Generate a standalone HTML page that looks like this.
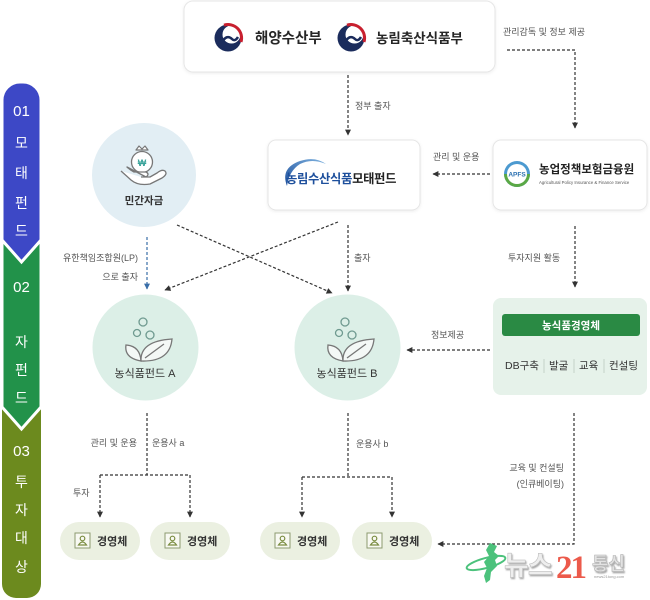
<!DOCTYPE html>
<html><head><meta charset="utf-8">
<style>
html,body{margin:0;padding:0;background:#fff;}
svg{display:block;}
text{font-family:"Liberation Sans","Noto Sans CJK KR",sans-serif;}
</style></head><body>
<svg width="650" height="600" viewBox="0 0 650 600" xmlns="http://www.w3.org/2000/svg">
<defs>
<marker id="ah" viewBox="0 0 10 10" refX="9" refY="5" markerWidth="7" markerHeight="6" orient="auto" markerUnits="userSpaceOnUse"><path d="M0,0 L10,5 L0,10 z" fill="#333"/></marker>
<marker id="ahb" viewBox="0 0 10 10" refX="9" refY="5" markerWidth="7" markerHeight="6" orient="auto" markerUnits="userSpaceOnUse"><path d="M0,0 L10,5 L0,10 z" fill="#3a6ea8"/></marker>
<filter id="sh" x="-10%" y="-10%" width="120%" height="130%"><feDropShadow dx="0" dy="1" stdDeviation="1.5" flood-color="#000" flood-opacity="0.07"/></filter>
<filter id="ts" x="-10%" y="-20%" width="130%" height="150%"><feDropShadow dx="1" dy="1.5" stdDeviation="0.8" flood-color="#000" flood-opacity="0.35"/></filter>
<linearGradient id="sw" x1="0" y1="1" x2="1" y2="0"><stop offset="0" stop-color="#1d4f9c"/><stop offset="1" stop-color="#7fb3e0"/></linearGradient>
</defs>

<!-- Sidebar -->
<path d="M2,400 L41,400 L41,584 A14,14 0 0 1 27,598 L16,598 A14,14 0 0 1 2,584 Z" fill="#6c8a1e"/>
<path d="M2,236 L41,236 L41,407 L21.5,429 L2,407 Z" fill="#22924a" stroke="#fff" stroke-width="3" stroke-linejoin="miter"/>
<path d="M2,100 A18,18 0 0 1 20,82 L23,82 A18,18 0 0 1 41,100 L41,240 L21.5,262 L2,240 Z" fill="#3d48c6" stroke="#fff" stroke-width="3"/>
<g fill="#fff" text-anchor="middle" font-size="14">
<text x="21.5" y="116" font-size="15">01</text>
<text x="21.5" y="148">모</text>
<text x="21.5" y="178">태</text>
<text x="21.5" y="208">펀</text>
<text x="21.5" y="236">드</text>
<text x="21.5" y="292" font-size="15">02</text>
<text x="21.5" y="347">자</text>
<text x="21.5" y="375">펀</text>
<text x="21.5" y="403">드</text>
<text x="21.5" y="456" font-size="15">03</text>
<text x="21.5" y="487">투</text>
<text x="21.5" y="515">자</text>
<text x="21.5" y="543">대</text>
<text x="21.5" y="572">상</text>
</g>

<!-- Top box -->
<rect x="184" y="1" width="311" height="71" rx="9" fill="#fff" stroke="#e6e6e6" filter="url(#sh)"/>
<g transform="translate(228,38)">
<circle r="13.5" fill="#1b2c5c"/>
<circle cx="3.5" cy="-3.5" r="9" fill="#fff"/>
<path d="M-4,-12.8 A13.5,13.5 0 0 1 13,4" fill="none" stroke="#c8202f" stroke-width="3"/>
<path d="M-6,4 Q-1,-4 4,1 Q7,4 10,-1" fill="none" stroke="#1b2c5c" stroke-width="2.5"/>
</g>
<text x="255" y="43" font-size="14.5" font-weight="bold" fill="#262626">해양수산부</text>
<g transform="translate(351,38)">
<circle r="13.5" fill="#1b2c5c"/>
<circle cx="3.5" cy="-3.5" r="9" fill="#fff"/>
<path d="M-4,-12.8 A13.5,13.5 0 0 1 13,4" fill="none" stroke="#c8202f" stroke-width="3"/>
<path d="M-6,4 Q-1,-4 4,1 Q7,4 10,-1" fill="none" stroke="#1b2c5c" stroke-width="2.5"/>
</g>
<text x="376" y="43" font-size="13.5" font-weight="bold" fill="#262626">농림축산식품부</text>

<!-- Central fund box -->
<rect x="268" y="140" width="152" height="70" rx="8" fill="#fff" stroke="#e6e6e6" filter="url(#sh)"/>
<path d="M287,186 Q280,168 300,161 Q315,156 326,164 Q312,158 300,164 Q289,171 287,186 Z" fill="url(#sw)"/>
<text x="286" y="183" font-size="12.3" font-weight="bold" letter-spacing="-0.3"><tspan fill="#1d4f9c">농림수산식품</tspan><tspan fill="#222">모태펀드</tspan></text>

<!-- APFS box -->
<rect x="493" y="140" width="154" height="70" rx="8" fill="#fff" stroke="#e6e6e6" filter="url(#sh)"/>
<circle cx="517" cy="174" r="13" fill="#4c9ad0"/>
<path d="M504,174 A13,13 0 0 0 530,174 Z" fill="#5aa845"/>
<circle cx="517" cy="174" r="10" fill="#fff"/>
<text x="517" y="176.5" font-size="6.5" font-weight="bold" fill="#2a6fb0" text-anchor="middle">APFS</text>
<text x="539" y="173" font-size="11.5" font-weight="bold" fill="#222">농업정책보험금융원</text>
<text x="539" y="184" font-size="4.3" fill="#555">Agricultural Policy Insurance &amp; Finance Service</text>

<!-- 민간자금 circle -->
<circle cx="144" cy="175" r="52" fill="#e2eef4"/>
<path d="M136,150 L139,146 L142,149 L145,146 L148,150 Z" fill="#fff" stroke="#777" stroke-width="1.2" stroke-linejoin="round"/>
<circle cx="142" cy="162" r="10.5" fill="#fff" stroke="#777" stroke-width="1.3"/>
<text x="142" y="166" font-size="9" font-weight="bold" fill="#3aa39a" text-anchor="middle">₩</text>
<path d="M121,171 L131,180 Q138,186 150,184 L162,178 Q168,174 165,171 Q162,169 157,173 L150,177 L141,177 M146,177 Q150,174 146,172 L134,172 Q130,170 127,167 Z" fill="#fff" stroke="#777" stroke-width="1.3" stroke-linejoin="round"/>
<text x="144" y="204" font-size="10.5" font-weight="bold" fill="#333" text-anchor="middle">민간자금</text>

<!-- Fund circles -->
<g>
<circle cx="145.5" cy="347.5" r="53" fill="#dcefe7"/>
<g fill="none" stroke="#6f9a90" stroke-width="1.3">
<circle cx="143" cy="322" r="4"/>
<circle cx="137" cy="333" r="3.5"/>
<circle cx="150" cy="335" r="4"/>
</g>
<path d="M141,361 Q124,358 126,345 Q140,346 141,361 Z" fill="#f4f8f6" stroke="#777" stroke-width="1.3"/>
<path d="M141,361 Q140,341 172,339 Q170,362 141,361 Z M145,358 L164,344" fill="#f4f8f6" stroke="#777" stroke-width="1.3"/>
</g>
<text x="145" y="377" font-size="11" fill="#333" text-anchor="middle">농식품펀드 A</text>
<g transform="translate(202,0)">
<circle cx="145.5" cy="347.5" r="53" fill="#dcefe7"/>
<g fill="none" stroke="#6f9a90" stroke-width="1.3">
<circle cx="143" cy="322" r="4"/>
<circle cx="137" cy="333" r="3.5"/>
<circle cx="150" cy="335" r="4"/>
</g>
<path d="M141,361 Q124,358 126,345 Q140,346 141,361 Z" fill="#f4f8f6" stroke="#777" stroke-width="1.3"/>
<path d="M141,361 Q140,341 172,339 Q170,362 141,361 Z M145,358 L164,344" fill="#f4f8f6" stroke="#777" stroke-width="1.3"/>
</g>
<text x="347" y="377" font-size="11" fill="#333" text-anchor="middle">농식품펀드 B</text>

<!-- 농식품경영체 box -->
<rect x="493" y="298" width="154" height="97" rx="8" fill="#e6f2ea"/>
<rect x="502" y="314" width="138" height="22" rx="3" fill="#2a8a44"/>
<text x="571" y="329" font-size="10.5" font-weight="bold" fill="#fff" text-anchor="middle">농식품경영체</text>
<g font-size="10.5" fill="#333">
<text x="505" y="369">DB구축</text>
<text x="549" y="369">발굴</text>
<text x="579" y="369">교육</text>
<text x="609" y="369">컨설팅</text>
</g>
<g stroke="#c4d3c8" stroke-width="1">
<line x1="544" y1="359" x2="544" y2="373"/>
<line x1="574" y1="359" x2="574" y2="373"/>
<line x1="604" y1="359" x2="604" y2="373"/>
</g>

<!-- Pills -->
<g>
<rect x="60" y="522" width="80" height="38" rx="19" fill="#ebf0e1"/>
<rect x="150" y="522" width="80" height="38" rx="19" fill="#ebf0e1"/>
<rect x="260" y="522" width="80" height="38" rx="19" fill="#ebf0e1"/>
<rect x="352" y="522" width="80" height="38" rx="19" fill="#ebf0e1"/>
</g>
<g fill="#f8f9f2" stroke="#8c9a70" stroke-width="1">
<rect x="75" y="533" width="15" height="15"/>
<rect x="165" y="533" width="15" height="15"/>
<rect x="275" y="533" width="15" height="15"/>
<rect x="367" y="533" width="15" height="15"/>
</g>
<g fill="none" stroke="#7a8c40" stroke-width="1.2">
<circle cx="82.5" cy="538.5" r="2.3"/><path d="M78.5,545 Q82.5,539 86.5,545 Z"/>
<circle cx="172.5" cy="538.5" r="2.3"/><path d="M168.5,545 Q172.5,539 176.5,545 Z"/>
<circle cx="282.5" cy="538.5" r="2.3"/><path d="M278.5,545 Q282.5,539 286.5,545 Z"/>
<circle cx="374.5" cy="538.5" r="2.3"/><path d="M370.5,545 Q374.5,539 378.5,545 Z"/>
</g>
<g font-size="11" font-weight="bold" fill="#333">
<text x="97" y="545">경영체</text>
<text x="187" y="545">경영체</text>
<text x="297" y="545">경영체</text>
<text x="389" y="545">경영체</text>
</g>

<!-- Connectors -->
<g fill="none" stroke="#333" stroke-width="1.2" stroke-dasharray="3,2">
<path d="M507,50 H575 V128" marker-end="url(#ah)"/>
<path d="M348,75 V135" marker-end="url(#ah)"/>
<path d="M490,174 H433" marker-end="url(#ah)"/>
<path d="M177,225 L332,293" marker-end="url(#ah)"/>
<path d="M338,222 L165,290" marker-end="url(#ah)"/>
<path d="M348,225 V291" marker-end="url(#ah)"/>
<path d="M575,226 V287" marker-end="url(#ah)"/>
<path d="M490,350 H407" marker-end="url(#ah)"/>
<path d="M147,413 V475"/>
<path d="M100,475 H190"/>
<path d="M100,475 V517" marker-end="url(#ah)"/>
<path d="M190,475 V517" marker-end="url(#ah)"/>
<path d="M348,413 V477"/>
<path d="M302,477 H392"/>
<path d="M302,477 V517" marker-end="url(#ah)"/>
<path d="M392,477 V517" marker-end="url(#ah)"/>
<path d="M574,413 V544 H438" marker-end="url(#ah)"/>
</g>
<path d="M147,237 V289" fill="none" stroke="#3a6ea8" stroke-width="1.2" stroke-dasharray="3,2" marker-end="url(#ahb)"/>

<!-- Labels -->
<g font-size="9" fill="#555">
<text x="503" y="35">관리감독 및 정보 제공</text>
<text x="355" y="109">정부 출자</text>
<text x="433" y="160">관리 및 운용</text>
<text x="138" y="261" text-anchor="end">유한책임조합원(LP)</text>
<text x="138" y="280" text-anchor="end">으로 출자</text>
<text x="354" y="261">출자</text>
<text x="508" y="261">투자지원 활동</text>
<text x="431" y="338">정보제공</text>
<text x="137" y="446" text-anchor="end">관리 및 운용</text>
<text x="152" y="446">운용사 a</text>
<text x="73" y="496">투자</text>
<text x="356" y="447">운용사 b</text>
<text x="564" y="471" text-anchor="end">교육 및 컨설팅</text>
<text x="564" y="487" text-anchor="end">(인큐베이팅)</text>
</g>

<!-- Watermark -->
<g>
<path d="M490,543 L497,546 L494,552 L499,556 L495,560 L497,566 L491,572 L490,580 L486,583 L484,576 L487,568 L484,562 L489,556 L486,550 Z" fill="#4cc27c"/>
<ellipse cx="486" cy="563" rx="20" ry="5" fill="none" stroke="#4cc27c" stroke-width="2" transform="rotate(-15 486 563)"/>
<text x="504" y="575" font-size="27" font-weight="bold" fill="#eeeeee" stroke="#b5b5b5" stroke-width="0.5" letter-spacing="-1" filter="url(#ts)">뉴스</text>
<text x="556" y="578" font-size="33" font-weight="bold" fill="#ec5a4b" style="font-family:'Liberation Serif',serif" letter-spacing="-2">21</text>
<text x="592" y="570" font-size="18" font-weight="bold" fill="#e2e2e2" stroke="#b0b0b0" stroke-width="0.6" filter="url(#ts)">통신</text>
<text x="594" y="578" font-size="4" fill="#999">news21tong.com</text>
</g>
</svg>
</body></html>
